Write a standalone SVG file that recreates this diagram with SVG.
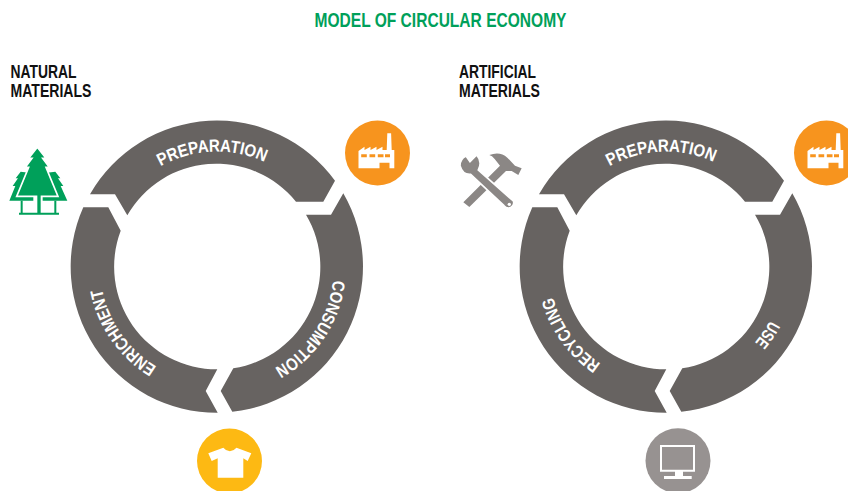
<svg xmlns="http://www.w3.org/2000/svg" width="848" height="491" viewBox="0 0 848 491">
<style>
.seg{fill:#676361}
.lbl{font-family:"Liberation Sans",sans-serif;font-weight:700;font-size:17.500px;fill:#fff;text-anchor:middle}
.hd{font-family:"Liberation Sans",sans-serif;font-weight:700;font-size:17.500px;fill:#111}
.w{fill:#fff}
.g{fill:#00a05a}
</style>
<defs>
<path id="arc" d="M-115 0A115 115 0 0 1 115 0"/>
<path id="arc2" d="M-117 0A117 117 0 0 1 117 0"/>
<g id="factory">
<path class="w" d="M0 35.300V18L6 13.700V17L12 13.700V17L18 13.700V17L24 13.700V17H28.200L28.800 0.300H32.600L33.200 17H35.800V35.300H31V29.700H21V35.300Z"/>
<path fill="#f7941e" d="M2.700 21.300H8.300V24.300H2.700ZM11 21.300H16.700V24.300H11ZM19.300 21.300H25V24.300H19.300ZM26.500 21.300H31.500V24.300H26.500Z"/>
</g>
<g id="shape-top"><path class="seg" d="M90 194.300A146 146 0 0 1 335 180.700L323.300 201.700H296A102.500 102.500 0 0 0 127.300 215.300L115 194.300Z"/></g>
<g id="shape-right"><path class="seg" d="M343.300 193.300A146 146 0 0 1 232.300 411.700L220.700 391L233.300 368.300A102.500 102.500 0 0 0 306 214.700H331Z"/></g>
<g id="shape-left"><path class="seg" d="M217.700 412.700A146 146 0 0 1 83.300 207.300H108.300L120.700 230.700A102.500 102.500 0 0 0 217.300 369.300L205.700 391Z"/></g>
</defs>
<text x="314.500" y="26.700" font-family="Liberation Sans,sans-serif" font-weight="700" font-size="20" textLength="252" lengthAdjust="spacingAndGlyphs" fill="#00a05a">MODEL OF CIRCULAR ECONOMY</text>
<g id="natural-label"><text class="hd" x="10.500" y="78.300" textLength="66" lengthAdjust="spacingAndGlyphs">NATURAL</text><text class="hd" x="10.500" y="96.500" textLength="81" lengthAdjust="spacingAndGlyphs">MATERIALS</text></g>
<g id="artificial-label"><text class="hd" x="459" y="78.300" textLength="77" lengthAdjust="spacingAndGlyphs">ARTIFICIAL</text><text class="hd" x="459" y="96.500" textLength="81" lengthAdjust="spacingAndGlyphs">MATERIALS</text></g>
<g id="connectors"></g>
<g id="natural-preparation"><use href="#shape-top"/><text class="lbl" transform="translate(217 266.500) rotate(-2.500)" textLength="108" lengthAdjust="spacingAndGlyphs"><textPath href="#arc" startOffset="50%">PREPARATION</textPath></text></g>
<g id="natural-consumption"><use href="#shape-right"/><text class="lbl" transform="translate(217 266.500) rotate(123.600)" textLength="110" lengthAdjust="spacingAndGlyphs"><textPath href="#arc2" startOffset="50%">CONSUMPTION</textPath></text></g>
<g id="natural-enrichment"><use href="#shape-left"/><text class="lbl" transform="translate(217 266.500) rotate(235)" textLength="98" lengthAdjust="spacingAndGlyphs"><textPath href="#arc2" startOffset="50%">ENRICHMENT</textPath></text></g>
<g id="artificial-preparation"><use href="#shape-top" x="449"/><text class="lbl" transform="translate(666 266.500) rotate(-2.500)" textLength="108" lengthAdjust="spacingAndGlyphs"><textPath href="#arc" startOffset="50%">PREPARATION</textPath></text></g>
<g id="artificial-use"><use href="#shape-right" x="449"/><text class="lbl" transform="translate(666 266.500) rotate(124)" textLength="27" lengthAdjust="spacingAndGlyphs"><textPath href="#arc2" startOffset="50%">USE</textPath></text></g>
<g id="artificial-recycling"><use href="#shape-left" x="449"/><text class="lbl" transform="translate(666 266.500) rotate(234.400)" textLength="84" lengthAdjust="spacingAndGlyphs"><textPath href="#arc2" startOffset="50%">RECYCLING</textPath></text></g>
<g id="tree" transform="translate(0 140) scale(.3333)">
<path class="g" d="M62 95L47 115H54L38 138H46L28 182H100V100Z"/>
<path class="g" d="M166 95L181 115H174L190 138H182L202 182H128V100Z"/>
<path class="g" stroke="#fff" stroke-width="5" stroke-linejoin="miter" d="M112 22L86 55H96L76 82H86L50 169H174L138 82H148L128 55H138Z"/>
<path class="g" d="M112 165H122V222H112ZM62 182H68V220H62ZM163 182H169V220H163ZM57 218H177V224H57Z"/>
</g>
<g id="tools" transform="translate(450 145) scale(.3333)">
<path fill="#8b8785" d="M40 172L150 62 134 42Q126 32 118 30Q150 18 172 38L195 62L215 70L205 90L185 78L168 78L58 186Z"/>
<path fill="#8b8785" stroke="#fff" stroke-width="5" d="M48 33L60 50L80 30Q98 50 85 75L190 168Q195 180 182 188Q170 192 162 182L62 88Q38 90 30 62Q30 42 48 33Z"/>
<circle cx="178" cy="178" r="5" fill="#fff"/>
</g>
<g id="factory-1"><circle cx="377.500" cy="153" r="32.500" fill="#f7941e"/><use href="#factory" x="358.500" y="133"/></g>
<g id="factory-2"><circle cx="826.500" cy="153" r="32.500" fill="#f7941e"/><use href="#factory" x="807.500" y="133"/></g>
<g id="shirt"><circle cx="229.500" cy="461" r="32.500" fill="#fdb913"/><path class="w" d="M208.300 453.300L223.300 447.700Q229.800 455 236.500 447.700L251.300 453.300L247.700 461L243.300 458.300V477.700H217.700V458.300L211.700 461Z"/></g>
<g id="monitor"><circle cx="678" cy="460.700" r="32.500" fill="#979291"/><path class="w" d="M660 445H695V471.700H683V476H691.700V479H664V476H675V471.700H660ZM662 447V469.700H693V447Z" fill-rule="evenodd"/></g>
</svg>
